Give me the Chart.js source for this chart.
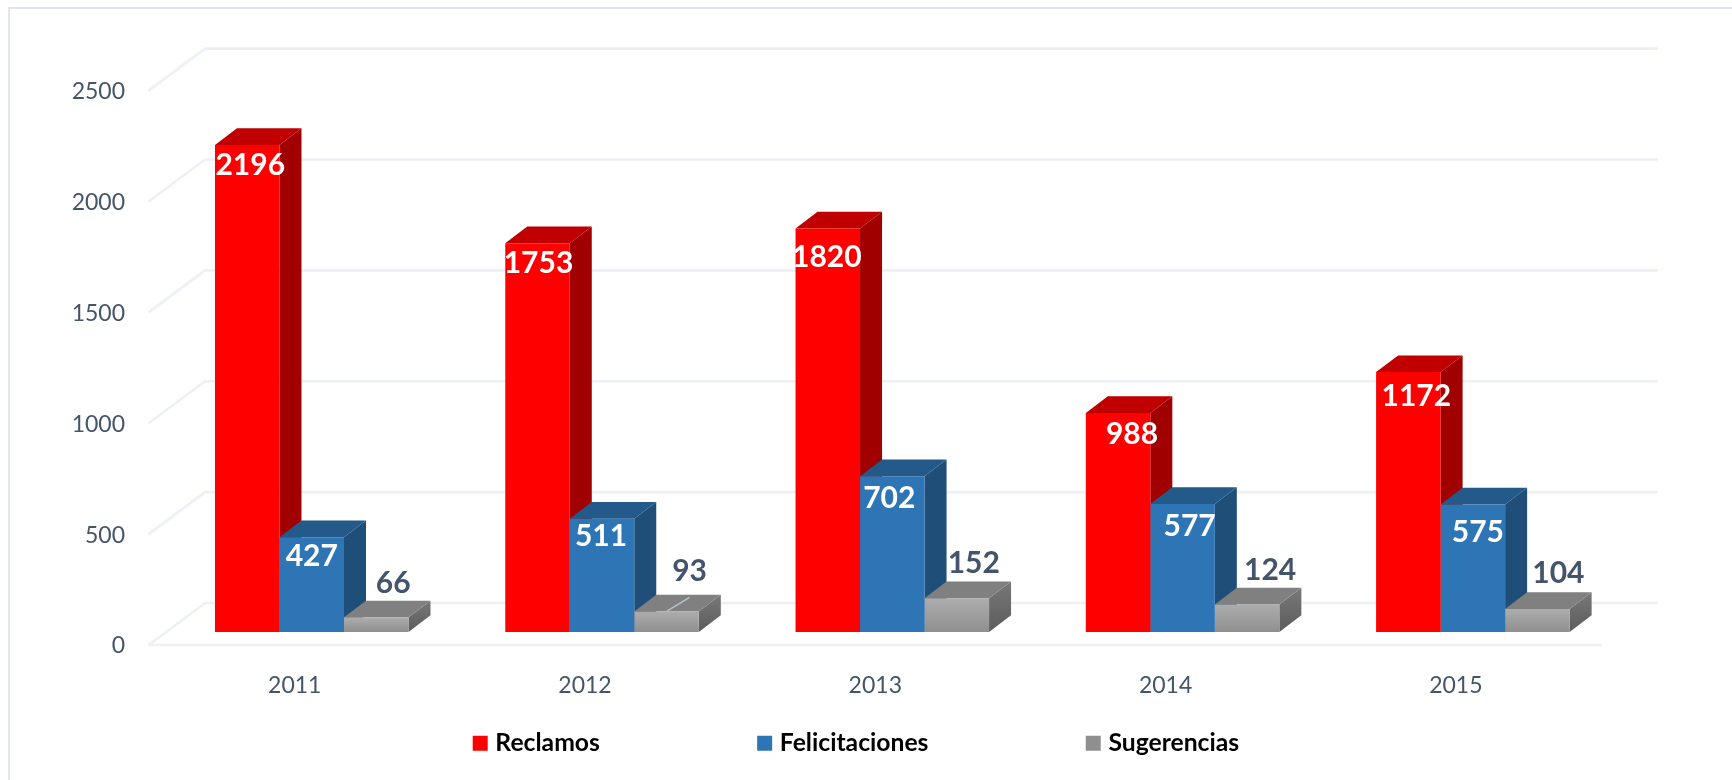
<!DOCTYPE html>
<html><head><meta charset="utf-8">
<style>html,body{margin:0;padding:0;background:#fff}canvas{display:block}</style>
<script src="https://cdn.jsdelivr.net/npm/chart.js@4/dist/chart.umd.min.js"></script>
</head><body><canvas id="c" width="1732" height="780"></canvas>
<script>
const years = ['2011','2012','2013','2014','2015'];
const reclamos = [2196,1753,1820,988,1172];
const felicitaciones = [427,511,702,577,575];
const sugerencias = [66,93,152,124,104];

/* label placement relative to each bar, [dx, dy] */
const nudge = [
  [[3,20],[1,20],[-1,29],[14,21],[8,24]],
  [[0,19],[-1,18],[-3,22],[7,22],[5,28]],
  [[17,-34],[23,-40],[17,-35],[23,-34],[21,-36]]
];
const FONT='Lato, Carlito, "Open Sans", sans-serif';
const DX=22, DY=-16.7;
const INK='#44546a', GRID='#edf0f7';
const faces=[
  {top:'#c00000',side:'#a00000',text:'#ffffff'},
  {top:'#235a8a',side:'#1f4e79',text:'#ffffff'},
  {top:'#808080',side:['#787878','#5c5c5c'],text:INK}
];

const scene={
  id:'scene',
  beforeLayout(chart){
    const l=chart.legend;
    if(!l._flat){
      const fit=l.fit;
      l.fit=function(){fit.call(this);this.height=0;};
      l._flat=true;
    }
  },
  afterLayout(chart){
    const l=chart.legend,pad=l.options.labels.padding;
    l.left=477.4-pad; l.right=3000; l.top=731-pad;
  },
  beforeDraw(chart){
    const c=chart.ctx,{left,right}=chart.chartArea,y=chart.scales.y;
    c.save();
    c.fillStyle='#fff';c.fillRect(0,0,chart.width,chart.height);
    c.strokeStyle='#e2e6ee';c.lineWidth=2;
    c.beginPath();c.moveTo(9,chart.height);c.lineTo(9,8);c.lineTo(chart.width,8);c.stroke();
    c.strokeStyle=GRID;c.lineWidth=2.6;
    y.ticks.forEach(t=>{
      const p=y.getPixelForValue(t.value);
      c.beginPath();c.moveTo(left-18,p+13);c.lineTo(left+38.5,p-29);c.lineTo(right+40,p-29);c.stroke();
    });
    const p0=y.getPixelForValue(0);
    c.beginPath();c.moveTo(left-18,p0+13);c.lineTo(right-16,p0+13);c.stroke();
    c.restore();
  },
  beforeDatasetsDraw(chart){
    const c=chart.ctx;
    c.save();
    faces.forEach((f,i)=>{
      chart.getDatasetMeta(i).data.forEach(b=>{
        const x0=b.x-b.width/2,x1=b.x+b.width/2;
        let side=f.side;
        if(Array.isArray(side)){
          const g=c.createLinearGradient(0,b.y+DY,0,b.base);
          g.addColorStop(0,side[0]);g.addColorStop(1,side[1]);side=g;
        }
        c.fillStyle=side;
        c.beginPath();c.moveTo(x1,b.y);c.lineTo(x1+DX,b.y+DY);c.lineTo(x1+DX,b.base+DY);c.lineTo(x1,b.base);c.closePath();c.fill();
        c.fillStyle=f.top;
        c.beginPath();c.moveTo(x0,b.y);c.lineTo(x0+DX,b.y+DY);c.lineTo(x1+DX,b.y+DY);c.lineTo(x1,b.y);c.closePath();c.fill();
      });
    });
    c.restore();
  },
  afterDatasetsDraw(chart){
    const c=chart.ctx;
    const g=chart.getDatasetMeta(2).data[1];
    c.save();
    c.strokeStyle='#b4c0cc';c.lineWidth=1.6;
    c.beginPath();c.moveTo(g.x,g.y);c.lineTo(g.x+23,g.y-14);c.stroke();
    c.font='bold 30px '+FONT;c.textAlign='center';c.textBaseline='middle';
    chart.data.datasets.forEach((ds,i)=>{
      c.fillStyle=faces[i].text;
      chart.getDatasetMeta(i).data.forEach((b,j)=>{
        c.fillText(String(ds.data[j]),b.x+nudge[i][j][0],b.y+nudge[i][j][1]);
      });
    });
    c.restore();
  }
};

function greyFill(ctx){
  if(ctx.type!=='data'||!ctx.parsed) return '#a8a8a8';
  const s=ctx.chart.scales.y;
  const a=s?s.getPixelForValue(ctx.parsed.y):NaN,b=s?s.getPixelForValue(0):NaN;
  if(!isFinite(a)||!isFinite(b)) return '#a8a8a8';
  const g=ctx.chart.ctx.createLinearGradient(0,a,0,b);
  g.addColorStop(0,'#adadad');g.addColorStop(1,'#8f8f8f');
  return g;
}

new Chart(document.getElementById('c'),{
  type:'bar',
  data:{labels:years,datasets:[
    {label:'Reclamos',data:reclamos,backgroundColor:'#ff0000'},
    {label:'Felicitaciones',data:felicitaciones,backgroundColor:'#2e75b6'},
    {label:'Sugerencias',data:sugerencias,backgroundColor:greyFill}
  ]},
  options:{
    responsive:false,animation:false,
    layout:{padding:{top:77.6,right:114,left:0,bottom:0}},
    datasets:{bar:{barPercentage:1,categoryPercentage:0.6667}},
    plugins:{
      tooltip:{enabled:false},
      title:{display:false},
      legend:{
        position:'bottom',align:'start',
        labels:{
          usePointStyle:true,pointStyle:'rect',boxWidth:5.6,boxHeight:15,padding:162,
          color:'#000000',font:{family:FONT,size:24.7,weight:'bold'}
        }
      }
    },
    scales:{
      x:{
        grid:{display:false},border:{display:false},
        afterFit(s){s.height=148;},
        ticks:{color:INK,padding:32,labelOffset:-17,maxRotation:0,autoSkip:false,font:{family:FONT,size:23}}
      },
      y:{
        min:0,max:2500,
        grid:{display:false},border:{display:false},
        afterFit(s){s.width=166.6;},
        ticks:{stepSize:500,color:INK,padding:33.6,labelOffset:14,font:{family:FONT,size:23},callback:v=>String(v)}
      }
    }
  },
  plugins:[scene]
});
</script></body></html>
